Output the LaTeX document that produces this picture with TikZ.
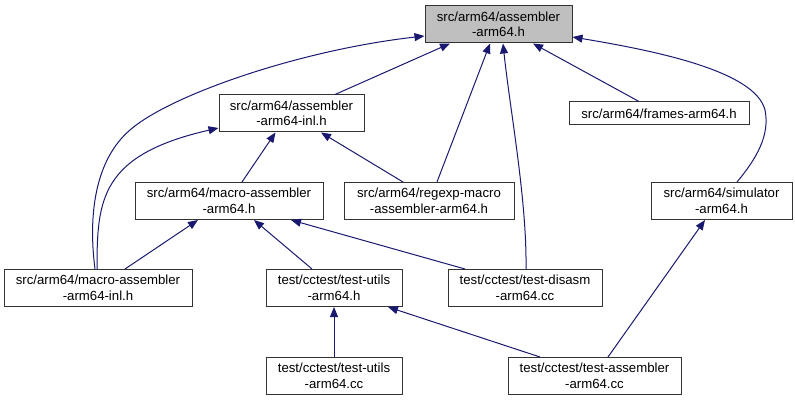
\documentclass[tikz,border=0pt]{standalone}
\usepackage{fontspec}
\setmainfont{Liberation Sans}
\usetikzlibrary{arrows.meta}
\definecolor{edgec}{HTML}{191970}
\definecolor{boxline}{HTML}{333333}
\definecolor{focusfill}{HTML}{BFBFBF}
\begin{document}
\begin{tikzpicture}[x=1pt,y=-1pt,
  font=\fontsize{13.2}{15.5}\selectfont,
  box/.style={draw=boxline, line width=1pt, fill=white, align=center, inner sep=0pt, minimum height=37pt},
  edge/.style={draw=edgec, line width=1pt, -{Triangle[length=10pt,width=8pt]}}]
\useasboundingbox (0,0) rectangle (795,403);
\node[box, fill=focusfill, minimum width=147pt] (N1) at (498.5,24.5) {src/arm64/assembler\\-arm64.h};
\node[box, minimum width=145pt] (N2) at (291.5,113.5) {src/arm64/assembler\\-arm64-inl.h};
\node[box, minimum width=180pt, minimum height=23pt] (N3) at (659,113.5) {src/arm64/frames-arm64.h};
\node[box, minimum width=188pt] (N4) at (229,201) {src/arm64/macro-assembler\\-arm64.h};
\node[box, minimum width=170pt] (N5) at (429,201) {src/arm64/regexp-macro\\-assembler-arm64.h};
\node[box, minimum width=141pt] (N6) at (721.5,201) {src/arm64/simulator\\-arm64.h};
\node[box, minimum width=188pt] (N7) at (98,288) {src/arm64/macro-assembler\\-arm64-inl.h};
\node[box, minimum width=136pt] (N8) at (334,288) {test/cctest/test-utils\\-arm64.h};
\node[box, minimum width=154pt] (N9) at (525,288) {test/cctest/test-disasm\\-arm64.cc};
\node[box, minimum width=136pt] (N10) at (334,376) {test/cctest/test-utils\\-arm64.cc};
\node[box, minimum width=173pt] (N11) at (594.5,376) {test/cctest/test-assembler\\-arm64.cc};

\draw[edge] ([xshift=43.5pt]N2.north) -- ([xshift=-48.5pt]N1.south);
\draw[edge] ([xshift=-3pt]N7.north) .. controls (88,215) and (95,160) .. (130,130)
   .. controls (170,95) and (300,50) .. ([yshift=-11.5pt]N1.west);
\draw[edge] ([xshift=-1pt]N7.north) .. controls (97,200) and (100,155) .. ([yshift=-14.5pt]N2.west);
\draw[edge] ([xshift=13pt]N4.north) -- ([xshift=-16pt]N2.south);
\draw[edge] ([xshift=-26pt]N5.north) -- ([xshift=29.5pt]N2.south);
\draw[edge] ([xshift=8pt]N5.north) -- ([xshift=-8.5pt]N1.south);
\draw[edge] ([xshift=1pt]N9.north) .. controls (527,200) and (510,110) .. ([xshift=4.5pt]N1.south);
\draw[edge] ([xshift=-20pt]N3.north) -- ([xshift=34.5pt]N1.south);
\draw[edge] ([xshift=15.5pt]N6.north) .. controls (757,158) and (770,135) .. (765,110)
   .. controls (755,70) and (650,50) .. ([yshift=-12.5pt]N1.east);
\draw[edge] ([xshift=27pt]N7.north) -- ([xshift=-31pt]N4.south);
\draw[edge] ([xshift=-22pt]N8.north) -- ([xshift=25pt]N4.south);
\draw[edge] ([xshift=-60pt]N9.north) -- ([xshift=62pt]N4.south);
\draw[edge] (N10.north) -- (N8.south);
\draw[edge] ([xshift=-54.5pt]N11.north) -- ([xshift=54pt]N8.south);
\draw[edge] ([xshift=13.5pt]N11.north) -- ([xshift=-16.5pt]N6.south);
\end{tikzpicture}
\end{document}
